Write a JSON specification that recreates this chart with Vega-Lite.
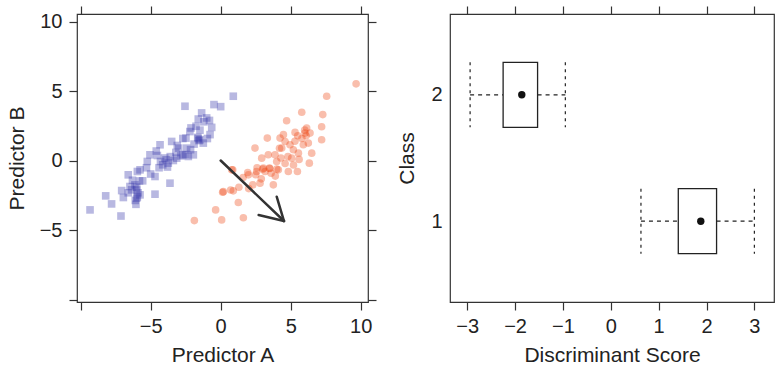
{
  "$schema": "https://vega.github.io/schema/vega-lite/v6.json",
  "padding": {"left": 5, "top": 4, "right": 0, "bottom": 0},
  "background": "white",
  "spacing": 18,
  "config": {
    "font": "Liberation Sans",
    "view": {"stroke": "#333333", "strokeWidth": 1.2},
    "axis": {"domain": false, "grid": false, "tickColor": "#333333", "tickSize": 8, "tickWidth": 1.2,
      "labelFontSize": 20, "labelColor": "#222222", "titleFontSize": 21, "titleFontWeight": "normal",
      "titleColor": "#222222", "labelPadding": 6, "titlePadding": 8, "labelFlush": false, "labelOverlap": false}
  },
  "datasets": {
    "pts": [
      {"a": -9.33, "b": -3.53, "cls": "2"}, {"a": -8.21, "b": -2.52, "cls": "2"}, {"a": -7.79, "b": -3.10, "cls": "2"},
      {"a": -7.12, "b": -3.97, "cls": "2"}, {"a": -7.07, "b": -2.14, "cls": "2"}, {"a": -6.60, "b": -1.01, "cls": "2"},
      {"a": -6.48, "b": -1.85, "cls": "2"}, {"a": -6.12, "b": -1.73, "cls": "2"}, {"a": -6.0, "b": -2.69, "cls": "2"},
      {"a": -5.95, "b": -0.77, "cls": "2"}, {"a": -5.76, "b": -0.65, "cls": "2"}, {"a": -6.05, "b": -3.13, "cls": "2"},
      {"a": -5.57, "b": -1.44, "cls": "2"}, {"a": -5.24, "b": -0.05, "cls": "2"}, {"a": -5.05, "b": 0.43, "cls": "2"},
      {"a": -4.69, "b": -1.13, "cls": "2"}, {"a": -4.69, "b": -2.40, "cls": "2"}, {"a": -4.52, "b": 0.38, "cls": "2"},
      {"a": -4.33, "b": 1.15, "cls": "2"}, {"a": -4.14, "b": -0.29, "cls": "2"}, {"a": -3.90, "b": 0.07, "cls": "2"},
      {"a": -3.74, "b": -0.17, "cls": "2"}, {"a": -3.62, "b": -1.61, "cls": "2"}, {"a": -3.50, "b": 1.39, "cls": "2"},
      {"a": -3.38, "b": 0.02, "cls": "2"}, {"a": -3.14, "b": 0.19, "cls": "2"}, {"a": -3.0, "b": 0.91, "cls": "2"},
      {"a": -2.71, "b": 0.43, "cls": "2"}, {"a": -2.55, "b": 3.92, "cls": "2"}, {"a": -2.48, "b": 1.63, "cls": "2"},
      {"a": -2.43, "b": 0.91, "cls": "2"}, {"a": -2.31, "b": 0.31, "cls": "2"}, {"a": -2.12, "b": 2.36, "cls": "2"},
      {"a": -1.95, "b": 0.43, "cls": "2"}, {"a": -1.76, "b": 2.48, "cls": "2"}, {"a": -1.64, "b": 1.68, "cls": "2"},
      {"a": -1.48, "b": 1.51, "cls": "2"}, {"a": -1.36, "b": 3.44, "cls": "2"}, {"a": -1.24, "b": 1.27, "cls": "2"},
      {"a": -1.0, "b": 3.08, "cls": "2"}, {"a": -0.76, "b": 1.88, "cls": "2"}, {"a": -0.64, "b": 2.40, "cls": "2"},
      {"a": -0.48, "b": 4.04, "cls": "2"}, {"a": 0.0, "b": 3.89, "cls": "2"}, {"a": 0.9, "b": 4.64, "cls": "2"},
      {"a": -6.95, "b": -2.64, "cls": "2"}, {"a": -5.76, "b": -2.45, "cls": "2"}, {"a": -6.36, "b": -2.09, "cls": "2"},
      {"a": -4.3, "b": -0.05, "cls": "2"}, {"a": -4.0, "b": 0.2, "cls": "2"}, {"a": -4.4, "b": -0.5, "cls": "2"},
      {"a": -3.8, "b": -0.45, "cls": "2"}, {"a": -3.2, "b": 0.6, "cls": "2"}, {"a": -2.85, "b": 0.35, "cls": "2"},
      {"a": -2.5, "b": 0.45, "cls": "2"}, {"a": -2.15, "b": 0.8, "cls": "2"}, {"a": -5.3, "b": -0.5, "cls": "2"},
      {"a": -5.0, "b": -0.95, "cls": "2"}, {"a": -5.8, "b": -1.45, "cls": "2"}, {"a": -6.3, "b": -1.4, "cls": "2"},
      {"a": -6.6, "b": -2.3, "cls": "2"}, {"a": -6.0, "b": -2.1, "cls": "2"}, {"a": -1.48, "b": 2.2, "cls": "2"},
      {"a": -1.2, "b": 2.8, "cls": "2"}, {"a": -0.95, "b": 1.6, "cls": "2"}, {"a": -1.9, "b": 1.2, "cls": "2"},
      {"a": -2.7, "b": 1.6, "cls": "2"}, {"a": -3.1, "b": 1.1, "cls": "2"}, {"a": -1.55, "b": 1.45, "cls": "2"},
      {"a": -1.6, "b": 1.6, "cls": "2"}, {"a": -6.1, "b": -2.85, "cls": "2"}, {"a": -4.6, "b": 0.7, "cls": "2"},
      {"a": -3.6, "b": 0.3, "cls": "2"}, {"a": -2.2, "b": 2.1, "cls": "2"}, {"a": -0.8, "b": 2.9, "cls": "2"},
      {"a": -1.6, "b": 3.0, "cls": "2"}, {"a": -6.0, "b": -1.9, "cls": "2"}, {"a": -5.95, "b": -2.6, "cls": "2"},
      {"a": -5.9, "b": -2.3, "cls": "2"},
      {"a": -1.88, "b": -4.30, "cls": "1"}, {"a": -0.36, "b": -3.53, "cls": "1"}, {"a": 0.07, "b": -4.25, "cls": "1"},
      {"a": 0.14, "b": -2.26, "cls": "1"}, {"a": 0.90, "b": -2.16, "cls": "1"}, {"a": 1.26, "b": -3.0, "cls": "1"},
      {"a": 1.62, "b": -4.09, "cls": "1"}, {"a": 0.86, "b": -0.65, "cls": "1"}, {"a": 1.98, "b": -1.01, "cls": "1"},
      {"a": 1.93, "b": -0.84, "cls": "1"}, {"a": 2.29, "b": -1.73, "cls": "1"}, {"a": 2.45, "b": 0.91, "cls": "1"},
      {"a": 2.57, "b": -0.77, "cls": "1"}, {"a": 2.81, "b": -1.61, "cls": "1"}, {"a": 2.93, "b": 0.19, "cls": "1"},
      {"a": 3.05, "b": -0.53, "cls": "1"}, {"a": 3.17, "b": -0.77, "cls": "1"}, {"a": 3.33, "b": 1.63, "cls": "1"},
      {"a": 3.40, "b": 0.43, "cls": "1"}, {"a": 3.48, "b": -0.53, "cls": "1"}, {"a": 3.76, "b": -1.73, "cls": "1"},
      {"a": 3.88, "b": 0.43, "cls": "1"}, {"a": 4.0, "b": -0.05, "cls": "1"}, {"a": 4.12, "b": -0.65, "cls": "1"},
      {"a": 4.24, "b": 1.63, "cls": "1"}, {"a": 4.36, "b": 0.91, "cls": "1"}, {"a": 4.48, "b": 1.88, "cls": "1"},
      {"a": 4.60, "b": 1.39, "cls": "1"}, {"a": 4.71, "b": 2.88, "cls": "1"}, {"a": 4.83, "b": -0.77, "cls": "1"},
      {"a": 4.95, "b": 1.15, "cls": "1"}, {"a": 5.07, "b": 0.19, "cls": "1"}, {"a": 5.19, "b": 0.79, "cls": "1"},
      {"a": 5.31, "b": 2.04, "cls": "1"}, {"a": 5.48, "b": -0.77, "cls": "1"}, {"a": 5.55, "b": 0.55, "cls": "1"},
      {"a": 5.79, "b": 3.49, "cls": "1"}, {"a": 5.90, "b": 1.15, "cls": "1"}, {"a": 6.02, "b": 1.99, "cls": "1"},
      {"a": 6.14, "b": 2.36, "cls": "1"}, {"a": 6.26, "b": 1.27, "cls": "1"}, {"a": 6.33, "b": -0.17, "cls": "1"},
      {"a": 6.38, "b": 1.99, "cls": "1"}, {"a": 6.50, "b": 0.55, "cls": "1"}, {"a": 7.21, "b": 2.45, "cls": "1"},
      {"a": 7.21, "b": 1.51, "cls": "1"}, {"a": 7.29, "b": 3.32, "cls": "1"}, {"a": 7.57, "b": 4.64, "cls": "1"},
      {"a": 9.67, "b": 5.53, "cls": "1"}, {"a": 0.19, "b": -2.22, "cls": "1"}, {"a": 0.71, "b": -2.1, "cls": "1"},
      {"a": 0.79, "b": -0.65, "cls": "1"}, {"a": 3.0, "b": -0.6, "cls": "1"}, {"a": 3.5, "b": -0.55, "cls": "1"},
      {"a": 4.0, "b": -0.6, "cls": "1"}, {"a": 4.3, "b": 0.2, "cls": "1"}, {"a": 4.8, "b": 0.3, "cls": "1"},
      {"a": 5.3, "b": 1.4, "cls": "1"}, {"a": 5.8, "b": 1.6, "cls": "1"}, {"a": 6.1, "b": 1.8, "cls": "1"},
      {"a": 3.6, "b": -0.9, "cls": "1"}, {"a": 2.9, "b": -1.3, "cls": "1"}, {"a": 2.5, "b": -1.0, "cls": "1"},
      {"a": 5.2, "b": -0.3, "cls": "1"}, {"a": 5.6, "b": 0.1, "cls": "1"}, {"a": 4.6, "b": -0.2, "cls": "1"},
      {"a": 3.9, "b": -1.1, "cls": "1"}, {"a": 6.0, "b": 2.2, "cls": "1"}, {"a": 5.5, "b": 1.8, "cls": "1"},
      {"a": 4.2, "b": 0.9, "cls": "1"}, {"a": 2.6, "b": -0.5, "cls": "1"}, {"a": 1.6, "b": -1.2, "cls": "1"},
      {"a": 1.3, "b": -1.9, "cls": "1"}, {"a": 2.0, "b": -2.0, "cls": "1"}
    ],
    "arrow": [
      {"x0": 0.0, "y0": 0.02, "x1": 4.52, "y1": -4.33},
      {"x0": 2.71, "y0": -3.9, "x1": 4.52, "y1": -4.33},
      {"x0": 4.0, "y0": -2.58, "x1": 4.52, "y1": -4.33}
    ],
    "box": [
      {"cls": 1, "lo": 0.63, "q1": 1.41, "med": 1.88, "q3": 2.21, "hi": 3.0},
      {"cls": 2, "lo": -2.94, "q1": -2.25, "med": -1.86, "q3": -1.53, "hi": -0.95}
    ]
  },
  "hconcat": [
    {
      "width": 291,
      "height": 288,
      "resolve": {"axis": {"x": "independent", "y": "independent"}},
      "layer": [
        {
          "data": {"name": "pts"},
          "mark": {"type": "point", "filled": true, "opacity": 0.35, "strokeWidth": 0, "size": 58},
          "encoding": {
            "x": {"field": "a", "type": "quantitative",
              "scale": {"domain": [-10.26, 10.52], "nice": false, "zero": false},
              "axis": {"values": [-10, -5, 0, 5, 10], "labelExpr": "datum.value == -10 ? '' : datum.label", "title": "Predictor A"}},
            "y": {"field": "b", "type": "quantitative",
              "scale": {"domain": [-10.15, 10.55], "nice": false, "zero": false},
              "axis": {"values": [-10, -5, 0, 5, 10], "labelExpr": "datum.value == -10 ? '' : datum.label", "title": "Predictor B", "labelPadding": 7, "titlePadding": 12}},
            "color": {"field": "cls", "type": "nominal", "scale": {"domain": ["1", "2"], "range": ["#ee4411", "#3333aa"]}, "legend": null},
            "shape": {"field": "cls", "type": "nominal", "scale": {"domain": ["1", "2"], "range": ["circle", "square"]}, "legend": null}
          }
        },
        {
          "data": {"name": "arrow"},
          "mark": {"type": "rule", "color": "#333333", "strokeWidth": 2.5, "strokeCap": "round"},
          "encoding": {
            "x": {"field": "x0", "type": "quantitative", "scale": {"domain": [-10.26, 10.52], "nice": false, "zero": false}, "axis": null},
            "y": {"field": "y0", "type": "quantitative", "scale": {"domain": [-10.15, 10.55], "nice": false, "zero": false}, "axis": null},
            "x2": {"field": "x1"},
            "y2": {"field": "y1"}
          }
        },
        {
          "data": {"name": "arrow"},
          "mark": {"type": "point", "opacity": 0},
          "encoding": {
            "x": {"field": "x0", "type": "quantitative", "scale": {"domain": [-10.26, 10.52], "nice": false, "zero": false},
              "axis": {"orient": "top", "values": [-10, -5, 0, 5, 10], "labels": false, "title": null}},
            "y": {"field": "y0", "type": "quantitative", "scale": {"domain": [-10.15, 10.55], "nice": false, "zero": false},
              "axis": {"orient": "right", "values": [-10, -5, 0, 5, 10], "labels": false, "title": null}}
          }
        }
      ]
    },
    {
      "width": 324,
      "height": 288,
      "data": {"name": "box"},
      "resolve": {"axis": {"x": "independent", "y": "independent"}},
      "layer": [
        {
          "mark": {"type": "rule", "color": "#222222", "strokeWidth": 1.2, "strokeDash": [4, 4]},
          "encoding": {
            "x": {"field": "lo", "type": "quantitative", "scale": {"domain": [-3.36, 3.41], "nice": false, "zero": false},
              "axis": {"values": [-3, -2, -1, 0, 1, 2, 3], "title": "Discriminant Score"}},
            "x2": {"field": "q1"},
            "y": {"field": "cls", "type": "quantitative", "scale": {"domain": [0.4, 2.6], "nice": false, "zero": false},
              "axis": {"values": [1, 2], "title": "Class", "ticks": false, "labelPadding": 8, "titlePadding": 13}}
          }
        },
        {
          "mark": {"type": "rule", "color": "#222222", "strokeWidth": 1.2, "strokeDash": [4, 4]},
          "encoding": {
            "x": {"field": "q3", "type": "quantitative", "scale": {"domain": [-3.36, 3.41], "nice": false, "zero": false}, "axis": null},
            "x2": {"field": "hi"},
            "y": {"field": "cls", "type": "quantitative", "scale": {"domain": [0.4, 2.6], "nice": false, "zero": false}, "axis": null}
          }
        },
        {
          "mark": {"type": "rule", "color": "#222222", "strokeWidth": 1.2, "strokeDash": [3, 4], "yOffset": -32.5, "y2Offset": 32.5},
          "encoding": {
            "x": {"field": "lo", "type": "quantitative", "scale": {"domain": [-3.36, 3.41], "nice": false, "zero": false}, "axis": null},
            "y": {"field": "cls", "type": "quantitative", "scale": {"domain": [0.4, 2.6], "nice": false, "zero": false}, "axis": null},
            "y2": {"field": "cls"}
          }
        },
        {
          "mark": {"type": "rule", "color": "#222222", "strokeWidth": 1.2, "strokeDash": [3, 4], "yOffset": -32.5, "y2Offset": 32.5},
          "encoding": {
            "x": {"field": "hi", "type": "quantitative", "scale": {"domain": [-3.36, 3.41], "nice": false, "zero": false}, "axis": null},
            "y": {"field": "cls", "type": "quantitative", "scale": {"domain": [0.4, 2.6], "nice": false, "zero": false}, "axis": null},
            "y2": {"field": "cls"}
          }
        },
        {
          "mark": {"type": "bar", "orient": "horizontal", "size": 65, "fill": "white", "stroke": "#222222", "strokeWidth": 1.3},
          "encoding": {
            "x": {"field": "q1", "type": "quantitative", "scale": {"domain": [-3.36, 3.41], "nice": false, "zero": false}, "axis": null},
            "x2": {"field": "q3"},
            "y": {"field": "cls", "type": "quantitative", "scale": {"domain": [0.4, 2.6], "nice": false, "zero": false}, "axis": null}
          }
        },
        {
          "mark": {"type": "point", "filled": true, "color": "#111111", "opacity": 1, "size": 55},
          "encoding": {
            "x": {"field": "med", "type": "quantitative", "scale": {"domain": [-3.36, 3.41], "nice": false, "zero": false}, "axis": null},
            "y": {"field": "cls", "type": "quantitative", "scale": {"domain": [0.4, 2.6], "nice": false, "zero": false}, "axis": null}
          }
        },
        {
          "mark": {"type": "point", "opacity": 0},
          "encoding": {
            "x": {"field": "med", "type": "quantitative", "scale": {"domain": [-3.36, 3.41], "nice": false, "zero": false},
              "axis": {"orient": "top", "values": [-3, -2, -1, 0, 1, 2, 3], "labels": false, "title": null}},
            "y": {"field": "cls", "type": "quantitative", "scale": {"domain": [0.4, 2.6], "nice": false, "zero": false}, "axis": null}
          }
        }
      ]
    }
  ]
}
